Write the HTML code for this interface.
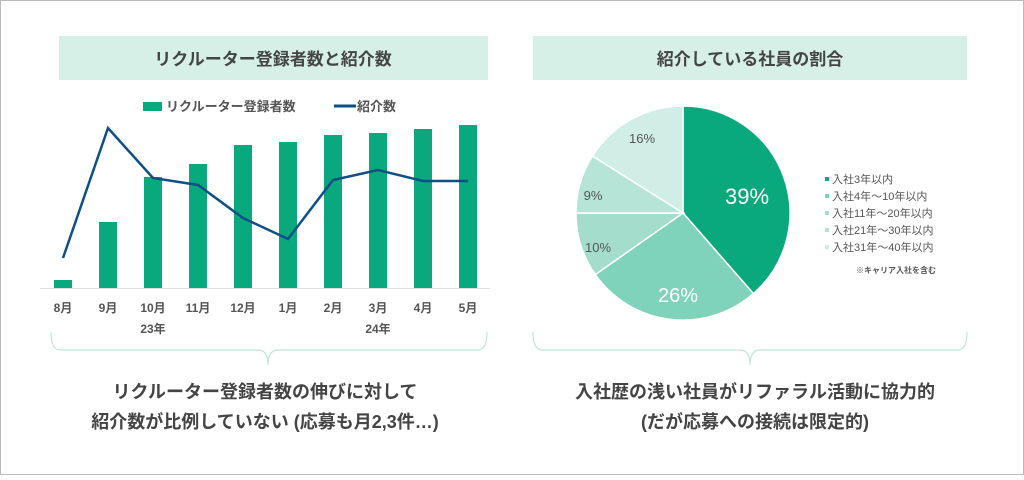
<!DOCTYPE html>
<html><head><meta charset="utf-8"><style>
body{margin:0;background:#fff;font-family:"Liberation Sans","Noto Sans CJK JP",sans-serif;}
svg text{font-family:"Liberation Sans","Noto Sans CJK JP",sans-serif;}
</style></head><body>
<svg width="1024" height="475" viewBox="0 0 1024 475" xmlns="http://www.w3.org/2000/svg">
<rect x="0.5" y="0.5" width="1023" height="474" fill="#fff" stroke="#bbb"/>
<rect x="59" y="36" width="429" height="44" fill="#d6f0e7"/>
<text x="273" y="65" text-anchor="middle" font-size="17" font-weight="bold" fill="#444">リクルーター登録者数と紹介数</text>
<rect x="533" y="36" width="434" height="44" fill="#d6f0e7"/>
<text x="750" y="65" text-anchor="middle" font-size="17" font-weight="bold" fill="#444">紹介している社員の割合</text>
<rect x="143" y="102" width="19" height="9" fill="#0aa97d"/>
<text x="166" y="111" font-size="13" font-weight="bold" fill="#555">リクルーター登録者数</text>
<line x1="334" y1="106" x2="356" y2="106" stroke="#0e4f86" stroke-width="3"/>
<text x="357" y="111" font-size="13" font-weight="bold" fill="#555">紹介数</text>
<g fill="#0aa97d">
<rect x="54" y="280" width="18" height="8"/>
<rect x="99" y="222" width="18" height="66"/>
<rect x="144" y="177" width="18" height="111"/>
<rect x="189" y="164" width="18" height="124"/>
<rect x="234" y="145" width="18" height="143"/>
<rect x="279" y="142" width="18" height="146"/>
<rect x="324" y="135" width="18" height="153"/>
<rect x="369" y="133" width="18" height="155"/>
<rect x="414" y="129" width="18" height="159"/>
<rect x="459" y="125" width="18" height="163"/>
</g>
<line x1="40" y1="288.5" x2="490" y2="288.5" stroke="#ddd"/>
<polyline points="63,258 108,128 153,178 198,185 243,218 288,239 333,180 378,170 423,181 468,181" fill="none" stroke="#0e4f86" stroke-width="2.5"/>
<g font-size="12" font-weight="bold" fill="#555" text-anchor="middle">
<text x="63" y="312">8月</text><text x="108" y="312">9月</text><text x="153" y="312">10月</text><text x="198" y="312">11月</text><text x="243" y="312">12月</text><text x="288" y="312">1月</text><text x="333" y="312">2月</text><text x="378" y="312">3月</text><text x="423" y="312">4月</text><text x="468" y="312">5月</text>
<text x="153" y="333">23年</text><text x="378" y="333">24年</text>
</g>
<g fill="none" stroke="#bfe6da" stroke-width="1.2">
<path d="M51,332 Q51,350 60,350 L258,350 Q268,350 268,365 Q268,350 278,350 L478,350 Q487,350 487,332"/>
<path d="M533,332 Q533,350 542,350 L740,350 Q750,350 750,365 Q750,350 760,350 L958,350 Q967,350 967,332"/>
</g>
<g font-size="18" font-weight="bold" fill="#444" text-anchor="middle">
<text x="265" y="398">リクルーター登録者数の伸びに対して</text>
<text x="265" y="428">紹介数が比例していない (応募も月2,3件…)</text>
<text x="755" y="398">入社歴の浅い社員がリファラル活動に協力的</text>
<text x="755" y="428">(だが応募への接続は限定的)</text>
</g>
<g stroke="#fff" stroke-width="1.5">
<path d="M683,213 L683,106 A107,107 0 0 1 753.4,293.6 Z" fill="#0aa97d"/>
<path d="M683,213 L753.4,293.6 A107,107 0 0 1 595.3,274.6 Z" fill="#7fd3bb"/>
<path d="M683,213 L595.3,274.6 A107,107 0 0 1 576,213 Z" fill="#a5ddcd"/>
<path d="M683,213 L576,213 A107,107 0 0 1 592.5,156 Z" fill="#b6e4d7"/>
<path d="M683,213 L592.5,156 A107,107 0 0 1 683,106 Z" fill="#d0eee5"/>
</g>
<text x="747" y="204" font-size="22" fill="#fff" text-anchor="middle">39%</text>
<text x="678" y="302" font-size="20" fill="#fff" text-anchor="middle">26%</text>
<g font-size="13" fill="#555" text-anchor="middle">
<text x="642" y="143">16%</text><text x="593" y="200">9%</text><text x="598" y="252">10%</text>
</g>
<g font-size="11" fill="#555">
<rect x="825" y="177" width="4" height="4" fill="#0aa97d"/><text x="832" y="183">入社3年以内</text>
<rect x="825" y="194" width="4" height="4" fill="#7fd3bb"/><text x="832" y="200">入社4年〜10年以内</text>
<rect x="825" y="211" width="4" height="4" fill="#a5ddcd"/><text x="832" y="217">入社11年〜20年以内</text>
<rect x="825" y="228" width="4" height="4" fill="#b6e4d7"/><text x="832" y="234">入社21年〜30年以内</text>
<rect x="825" y="245" width="4" height="4" fill="#d0eee5"/><text x="832" y="251">入社31年〜40年以内</text>
<text x="936" y="273" font-size="8" font-weight="bold" text-anchor="end">※キャリア入社を含む</text>
</g>
</svg>
</body></html>
